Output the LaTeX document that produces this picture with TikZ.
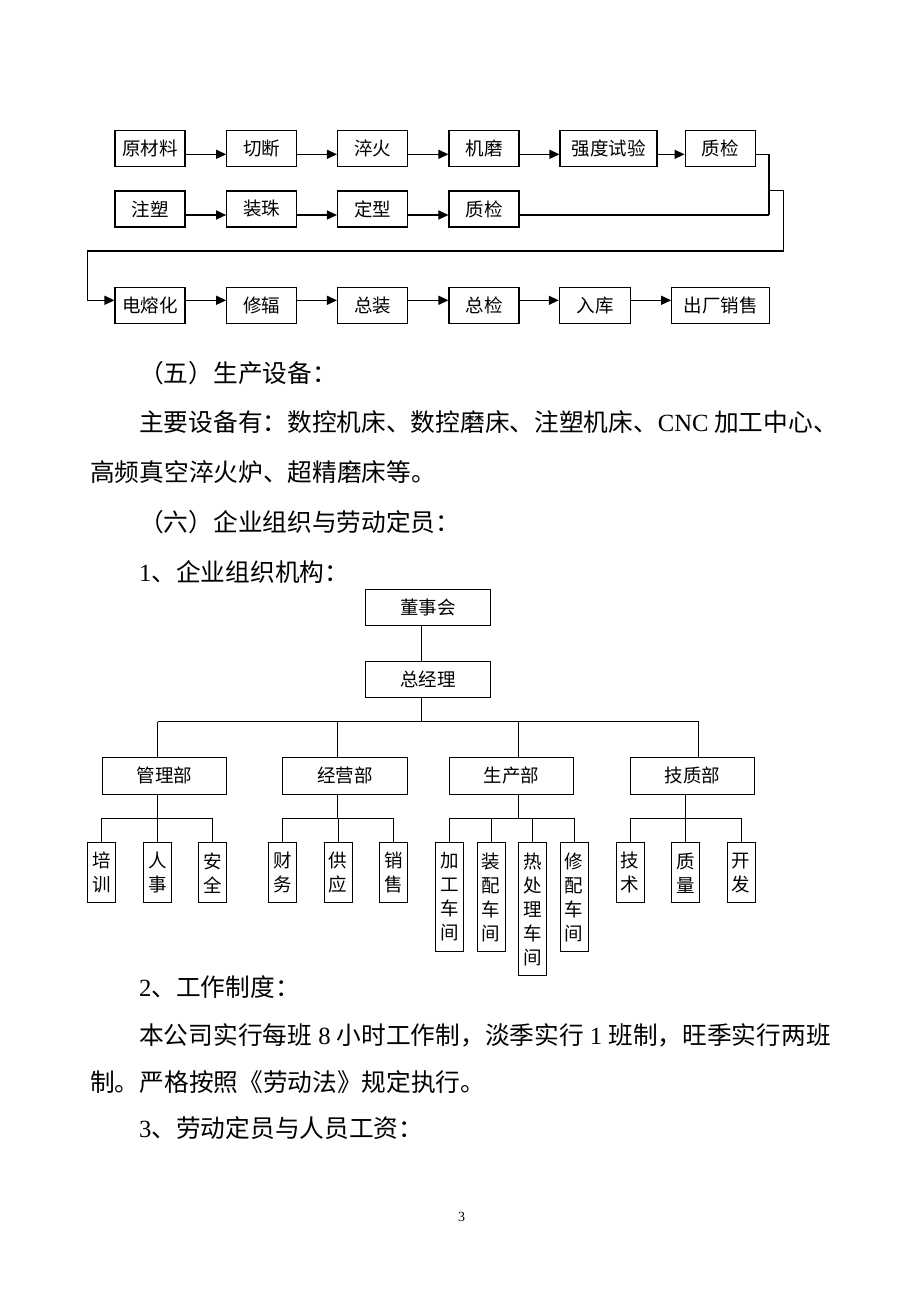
\documentclass[tikz,border=0pt]{standalone}
\usepackage{fontspec}
\newfontfamily\cjk{Noto Sans CJK SC}
\newfontfamily\latn{Liberation Serif}
\usetikzlibrary{arrows.meta}
\begin{document}
\begin{tikzpicture}[x=1pt,y=-1pt,
 fbox/.style={draw, line width=1.1pt, minimum width=70, minimum height=36, inner sep=0, font=\cjk\fontsize{18.5}{18.5}\selectfont},
 flow/.style={line width=1.3pt, -{Triangle[length=10pt,width=9pt]}},
 fline/.style={line width=1.3pt},
 obox/.style={draw, line width=1pt, minimum width=124.5, minimum height=36.5, inner sep=0, font=\cjk\fontsize{18.5}{18.5}\selectfont},
 vbox/.style={draw, line width=1pt, anchor=north, minimum width=28, inner sep=0, align=center, font=\cjk\fontsize{18.5}{24}\selectfont},
 oline/.style={line width=1pt},
 txt/.style={anchor=base west, inner sep=0, font=\cjk\fontsize{24.7}{24.7}\selectfont}]
\fill[white] (0,0) rectangle (920,1302);
\useasboundingbox (0,0) rectangle (920,1302);

% ---------- flow chart ----------
\node[fbox] (a1) at (150,148.7) {原材料};
\node[fbox] (a2) at (261.7,148.7) {切断};
\node[fbox] (a3) at (372.5,148.7) {淬火};
\node[fbox] (a4) at (484,148.7) {机磨};
\node[fbox, minimum width=97] (a5) at (608.5,148.7) {强度试验};
\node[fbox, minimum width=70.7] (a6) at (720.4,148.7) {质检};

\node[fbox] (b1) at (150,209) {注塑};
\node[fbox] (b2) at (261.7,209) {装珠};
\node[fbox] (b3) at (372.5,209) {定型};
\node[fbox] (b4) at (484,209) {质检};

\node[fbox] (c1) at (150,305.3) {电熔化};
\node[fbox] (c2) at (261.7,305.3) {修辐};
\node[fbox] (c3) at (372.5,305.3) {总装};
\node[fbox] (c4) at (484,305.3) {总检};
\node[fbox, minimum width=71.4] (c5) at (595,305.3) {入库};
\node[fbox, minimum width=97.6] (c6) at (720.5,305.3) {出厂销售};

\foreach \p/\q in {a1/a2,a2/a3,a3/a4,a4/a5,a5/a6}
  \draw[flow] ([yshift=-5.6pt]\p.east) -- ([yshift=-5.6pt]\q.west);
\foreach \p/\q in {b1/b2,b2/b3,b3/b4}
  \draw[flow] ([yshift=-6pt]\p.east) -- ([yshift=-6pt]\q.west);
\foreach \p/\q in {c1/c2,c2/c3,c3/c4,c4/c5,c5/c6}
  \draw[flow] ([yshift=5pt]\p.east) -- ([yshift=5pt]\q.west);

\coordinate (ja) at (769,215);
\coordinate (jb) at (769,190.7);
\coordinate (jc) at (783.3,251);
\coordinate (jd) at (87.7,251);
\draw[fline] ([yshift=-5.6pt]a6.east) -| (ja);
\draw[fline] ([yshift=-6pt]b4.east) -- (ja);
\draw[flow] (jb) -| (jc) -- (jd) |- ([yshift=5pt]c1.west);

% ---------- text ----------
\node[txt] (t1) at (139,382.4) {（五）生产设备：};
\node[txt] (t2) at (139,431.1) {主要设备有：数控机床、数控磨床、注塑机床、{\latn CNC} 加工中心、};
\node[txt] (t3) at (90,481.1) {高频真空淬火炉、超精磨床等。};
\node[txt] (t4) at (139,531.1) {（六）企业组织与劳动定员：};
\node[txt] (t5) at (139,581.1) {{\latn 1}、企业组织机构：};
\node[txt] (t6) at (139,996.1) {{\latn 2}、工作制度：};
\node[txt] (t7) at (139,1044.4) {本公司实行每班{\latn\ 8 }小时工作制，淡季实行{\latn\ 1 }班制，旺季实行两班};
\node[txt] (t8) at (90,1091.1) {制。严格按照《劳动法》规定执行。};
\node[txt] (t9) at (139,1137.7) {{\latn 3}、劳动定员与人员工资：};
\node[font=\latn\fontsize{14}{14}\selectfont, inner sep=0] (pg) at (461.5,1216.7) {3};

% ---------- org chart ----------
\node[obox, minimum width=124.3, minimum height=36] (dz) at (428,607) {董事会};
\node[obox, minimum width=124.3, minimum height=36] (zj) at (428,679) {总经理};

\node[obox] (g1) at (164.4,775.8) {管理部};
\node[obox] (g2) at (345,775.8) {经营部};
\node[obox] (g3) at (511.7,775.8) {生产部};
\node[obox] (g4) at (692.4,775.8) {技质部};

\coordinate (tx) at (421.3,721.7);
\coordinate (u1) at (157.7,721.7);
\coordinate (u2) at (337.9,721.7);
\coordinate (u3) at (518.5,721.7);
\coordinate (u4) at (698.7,721.7);
\draw[oline] (dz.south -| tx) -- (zj.north -| tx);
\draw[oline] (zj.south -| tx) -- (tx);
\draw[oline] (u1) -- (u4);
\foreach \k in {1,2,3,4} \draw[oline] (u\k) -- (g\k.north -| u\k);

\coordinate (d1) at (157.7,818);
\coordinate (d2) at (337.9,818);
\coordinate (d3) at (518.7,818);
\coordinate (d4) at (685.4,818);
\foreach \k in {1,2,3,4} \draw[oline] (g\k.south -| d\k) -- (d\k);

\node[vbox, minimum height=60] (m1) at (101.7,842.3) {培\\训};
\node[vbox, minimum height=60] (m2) at (157.5,842.3) {人\\事};
\node[vbox, minimum height=60] (m3) at (212.7,842.3) {安\\全};
\node[vbox, minimum height=60] (y1) at (282.6,842.3) {财\\务};
\node[vbox, minimum height=60] (y2) at (338,842.3) {供\\应};
\node[vbox, minimum height=60] (y3) at (393.4,842.3) {销\\售};
\node[vbox, minimum height=108.5] (s1) at (449.3,842.3) {加\\工\\车\\间};
\node[vbox, minimum height=108.5] (s2) at (491,842.3) {装\\配\\车\\间};
\node[vbox, minimum height=132.5] (s3) at (532.6,842.3) {热\\处\\理\\车\\间};
\node[vbox, minimum height=108.5] (s4) at (574.2,842.3) {修\\配\\车\\间};
\node[vbox, minimum height=60] (j1) at (630,842.3) {技\\术};
\node[vbox, minimum height=60] (j2) at (685.4,842.3) {质\\量};
\node[vbox, minimum height=60] (j3) at (741,842.3) {开\\发};

\draw[oline] (m1.north |- d1) -- (m3.north |- d1);
\draw[oline] (y1.north |- d2) -- (y3.north |- d2);
\draw[oline] (s1.north |- d3) -- (s4.north |- d3);
\draw[oline] (j1.north |- d4) -- (j3.north |- d4);
\foreach \n/\d in {m1/d1,m2/d1,m3/d1,y1/d2,y2/d2,y3/d2,s1/d3,s2/d3,s3/d3,s4/d3,j1/d4,j2/d4,j3/d4}
  \draw[oline] (\n.north |- \d) -- (\n.north);
\end{tikzpicture}
\end{document}
